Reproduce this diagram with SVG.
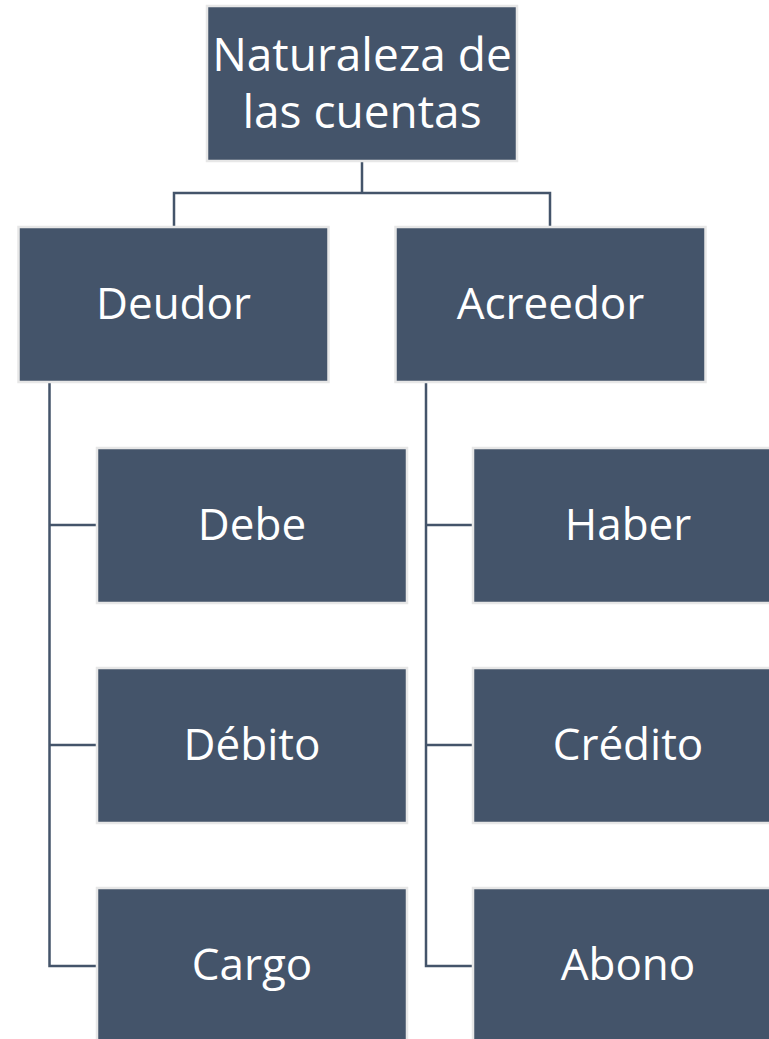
<svg xmlns="http://www.w3.org/2000/svg" width="769" height="1039" viewBox="0 0 769 1039">
<style>
.box{fill:#44546A;stroke:#E7E7E7;stroke-width:2.5}
.lbl{font-family:"Open Sans","DejaVu Sans",sans-serif;font-size:44px;fill:#FFFFFF;text-anchor:middle}
.top{font-size:46px}
.con{fill:none;stroke:#44546A;stroke-width:2.5}
</style>
<rect width="769" height="1039" fill="#FFFFFF"/>
<g id="connectors">
<path class="con" d="M362,161 V193 H174 V227 M362,193 H550 V227"/>
<path class="con" d="M49.5,382 V966 H97 M49.5,525 H97 M49.5,745 H97"/>
<path class="con" d="M426,382 V966 H473 M426,525 H473 M426,745 H473"/>
</g>
<g id="n-root"><rect class="box" x="207" y="6" width="310" height="155"/><text class="lbl top" x="362" y="71">Naturaleza de</text><text class="lbl top" x="362" y="128">las cuentas</text></g>
<g id="n-deudor"><rect class="box" x="18.5" y="227" width="310" height="155"/><text class="lbl" x="173.5" y="319">Deudor</text></g>
<g id="n-acreedor"><rect class="box" x="395.5" y="227" width="310" height="155"/><text class="lbl" x="550.5" y="319">Acreedor</text></g>
<g id="n-debe"><rect class="box" x="97" y="448" width="310" height="155"/><text class="lbl" x="252" y="540">Debe</text></g>
<g id="n-debito"><rect class="box" x="97" y="668" width="310" height="155"/><text class="lbl" x="252" y="760">Débito</text></g>
<g id="n-cargo"><rect class="box" x="97" y="888" width="310" height="155"/><text class="lbl" x="252" y="980">Cargo</text></g>
<g id="n-haber"><rect class="box" x="473" y="448" width="310" height="155"/><text class="lbl" x="628" y="540">Haber</text></g>
<g id="n-credito"><rect class="box" x="473" y="668" width="310" height="155"/><text class="lbl" x="628" y="760">Crédito</text></g>
<g id="n-abono"><rect class="box" x="473" y="888" width="310" height="155"/><text class="lbl" x="628" y="980">Abono</text></g>
</svg>
